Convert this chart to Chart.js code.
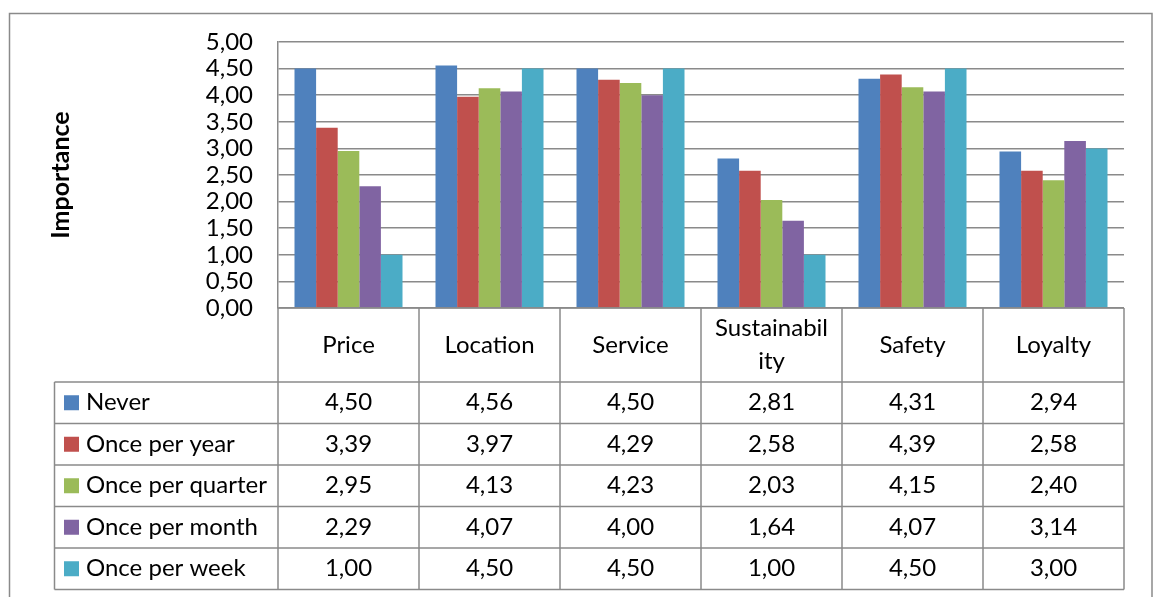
<!DOCTYPE html>
<html>
<head>
<meta charset="utf-8">
<script src="https://cdn.jsdelivr.net/npm/chart.js@4"></script>
<style>
  html, body { margin: 0; padding: 0; background: #fff; }
  #wrap { width: 1153px; height: 597px; position: relative; }
</style>
</head>
<body>
<div id="wrap"><canvas id="chart"></canvas></div>
<script>
// --- data ---
const categories = ['Price', 'Location', 'Service', 'Sustainability', 'Safety', 'Loyalty'];
// header cells wrap like the spreadsheet does
const headerLines = [['Price'], ['Location'], ['Service'], ['Sustainabil', 'ity'], ['Safety'], ['Loyalty']];
const seriesNames = ['Never', 'Once per year', 'Once per quarter', 'Once per month', 'Once per week'];
const never        = [4.50, 4.56, 4.50, 2.81, 4.31, 2.94];
const oncePerYear  = [3.39, 3.97, 4.29, 2.58, 4.39, 2.58];
const oncePerQtr   = [2.95, 4.13, 4.23, 2.03, 4.15, 2.40];
const oncePerMonth = [2.29, 4.07, 4.00, 1.64, 4.07, 3.14];
const oncePerWeek  = [1.00, 4.50, 4.50, 1.00, 4.50, 3.00];
const yMin = 0, yMax = 5, yStep = 0.5;
const yTitle = 'Importance';

// --- style ---
const FONT = 'Lato, "Open Sans", sans-serif';
const FONT_SIZE = 24;
const LINE = '#8a8a8a';
const colors = ['#4F81BD', '#C0504D', '#9BBB59', '#8064A2', '#4BACC6'];
const HEAD_H = 74, ROW_H = 41.5, LEGEND_LEFT = 54.5;

const allSeries = [never, oncePerYear, oncePerQtr, oncePerMonth, oncePerWeek];
const fmt = v => Number(v).toFixed(2).replace('.', ',');

// outer frame + data table under the plot
const tablePlugin = {
  id: 'dataTable',
  afterDraw(chart) {
    const { ctx, chartArea: a, scales: { x } } = chart;
    const n = categories.length;
    const step = (a.right - a.left) / n;
    const top = a.bottom;
    const headBottom = top + HEAD_H;
    const bottom = headBottom + ROW_H * allSeries.length;

    ctx.save();
    // chart frame
    ctx.strokeStyle = LINE;
    ctx.lineWidth = 1.5;
    ctx.strokeRect(9.5, 13.5, 1142.5, 700);

    // grid of the table
    ctx.beginPath();
    for (let i = 0; i <= n; i++) {
      const xx = a.left + i * step;
      ctx.moveTo(xx, top); ctx.lineTo(xx, bottom);
    }
    ctx.moveTo(LEGEND_LEFT, headBottom); ctx.lineTo(LEGEND_LEFT, bottom);
    ctx.moveTo(a.left, top); ctx.lineTo(a.right, top);
    for (let r = 0; r <= allSeries.length; r++) {
      const yy = headBottom + r * ROW_H;
      ctx.moveTo(LEGEND_LEFT, yy); ctx.lineTo(a.right, yy);
    }
    ctx.stroke();

    ctx.fillStyle = '#000';
    ctx.font = FONT_SIZE + 'px ' + FONT;
    ctx.textBaseline = 'middle';
    ctx.textAlign = 'center';

    // category headers
    headerLines.forEach((lines, i) => {
      const cx = x.getPixelForValue(i);
      const lh = 33;
      const y0 = top + HEAD_H / 2 - (lines.length - 1) * lh / 2;
      lines.forEach((t, k) => ctx.fillText(t, cx, y0 + k * lh));
    });

    // rows: legend key + values
    allSeries.forEach((vals, r) => {
      const cy = headBottom + r * ROW_H + ROW_H / 2;
      ctx.fillStyle = colors[r];
      ctx.fillRect(64, cy - 7.5, 15, 15);
      ctx.fillStyle = '#000';
      ctx.textAlign = 'left';
      ctx.fillText(seriesNames[r], 86, cy);
      ctx.textAlign = 'center';
      vals.forEach((v, i) => ctx.fillText(fmt(v), x.getPixelForValue(i), cy));
    });
    ctx.restore();
  }
};

new Chart(document.getElementById('chart'), {
  type: 'bar',
  data: {
    labels: categories,
    datasets: allSeries.map((d, i) => ({
      label: seriesNames[i],
      data: d,
      backgroundColor: colors[i],
      borderWidth: 0,
      categoryPercentage: 0.766,
      barPercentage: 1
    }))
  },
  options: {
    responsive: true,
    maintainAspectRatio: false,
    animation: false,
    layout: { padding: { top: 42, right: 29, bottom: 289, left: 46 } },
    plugins: { legend: { display: false }, tooltip: { enabled: false } },
    scales: {
      x: { display: false },
      y: {
        min: yMin, max: yMax,
        ticks: {
          stepSize: yStep, padding: 25, color: '#000', autoSkip: false,
          font: { family: FONT, size: FONT_SIZE },
          callback: v => fmt(v)
        },
        grid: { color: LINE, lineWidth: 1.5, drawTicks: false },
        border: { color: LINE, width: 1.5 },
        title: {
          display: true, text: yTitle, color: '#000', padding: 0,
          font: { family: FONT, size: 25, weight: 'bold' }
        },
        afterFit: s => { s.width = 278 - 46; }
      }
    }
  },
  plugins: [tablePlugin]
});
</script>
</body>
</html>
